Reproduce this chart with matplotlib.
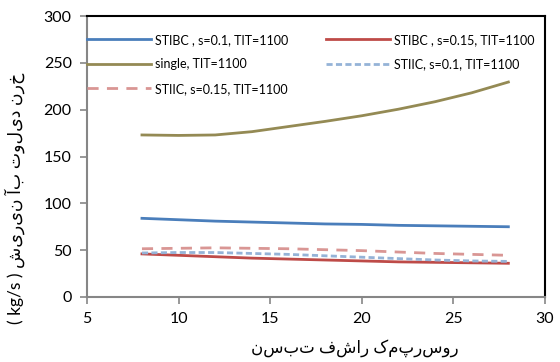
import numpy as np
import matplotlib.pyplot as plt

plt.rcParams["font.family"] = ["Lato", "DejaVu Sans"]
plt.rcParams["font.size"] = 11

x = [8, 10, 12, 14, 16, 18, 20, 22, 24, 26, 28]

stibc_01 = [84, 82.5, 81, 80, 79, 78, 77.5, 76.5, 76, 75.5, 75]
stibc_015 = [46, 44.5, 43, 41.5, 40.5, 39.5, 38.5, 37.5, 37, 36.5, 36]
single = [173, 172.5, 173, 176.5, 182, 187.5, 193.5, 200.5, 208.5, 218, 229.5]
stiic_01 = [47, 47.5, 47.5, 46.5, 45.5, 44, 42.5, 41, 39.5, 38.5, 38]
stiic_015 = [51.5, 52, 52.5, 52, 51.5, 50.5, 49.5, 48, 46.5, 45.5, 44.5]

labels = ["STIBC , s=0.1, TIT=1100", "STIBC , s=0.15, TIT=1100",
          "single, TIT=1100", "STIIC, s=0.1, TIT=1100",
          "STIIC, s=0.15, TIT=1100"]

xlabel = "نسبت فشار کمپرسور"
ylabel = "( kg/s ) شیرین آب تولید نرخ"

fig = plt.figure(figsize=(5.6, 3.62), dpi=100)
ax = fig.add_axes([87 / 560, 1 - 297 / 362, 458 / 560, 281 / 362])

l1, = ax.plot(x, stibc_01, color="#4A7EBB", lw=2)
l2, = ax.plot(x, stibc_015, color="#BE4B48", lw=2)
l3, = ax.plot(x, single, color="#948A54", lw=2)
l4, = ax.plot(x, stiic_01, color="#95B3D7", lw=2, ls=(0, (2.2, 1.2)))
l5, = ax.plot(x, stiic_015, color="#D99694", lw=2, ls=(0, (4, 3)))

ax.set_xlim(5, 30)
ax.set_ylim(0, 300)
ax.set_xticks(range(5, 31, 5))
ax.set_yticks(range(0, 301, 50))

for s in ["left", "bottom"]:
    ax.spines[s].set_color("#868686")
    ax.spines[s].set_linewidth(1.5)
for s in ["top", "right"]:
    ax.spines[s].set_color("black")
    ax.spines[s].set_linewidth(1.5)
ax.tick_params(direction="out", length=5, width=1.2, color="#868686", pad=6,
               labelsize=11.5)

ax.set_xlabel(xlabel, fontsize=12)
ax.xaxis.set_label_coords(0.585, -0.15)
ax.set_ylabel(ylabel, fontsize=12.5)
ax.yaxis.set_label_coords(-0.135, 0.35)

leg_kw = dict(frameon=False, loc="upper left", fontsize=9, handlelength=5.1,
              handletextpad=0.35, labelspacing=1.0, borderpad=0, borderaxespad=0)
leg1 = ax.legend([l1, l3, l5], [labels[0], labels[2], labels[4]],
                 bbox_to_anchor=(0.0, 0.937), **leg_kw)
ax.add_artist(leg1)
ax.legend([l2, l4], [labels[1], labels[3]],
          bbox_to_anchor=(0.522, 0.937), **leg_kw)

fig.savefig("out.png", dpi=100)
